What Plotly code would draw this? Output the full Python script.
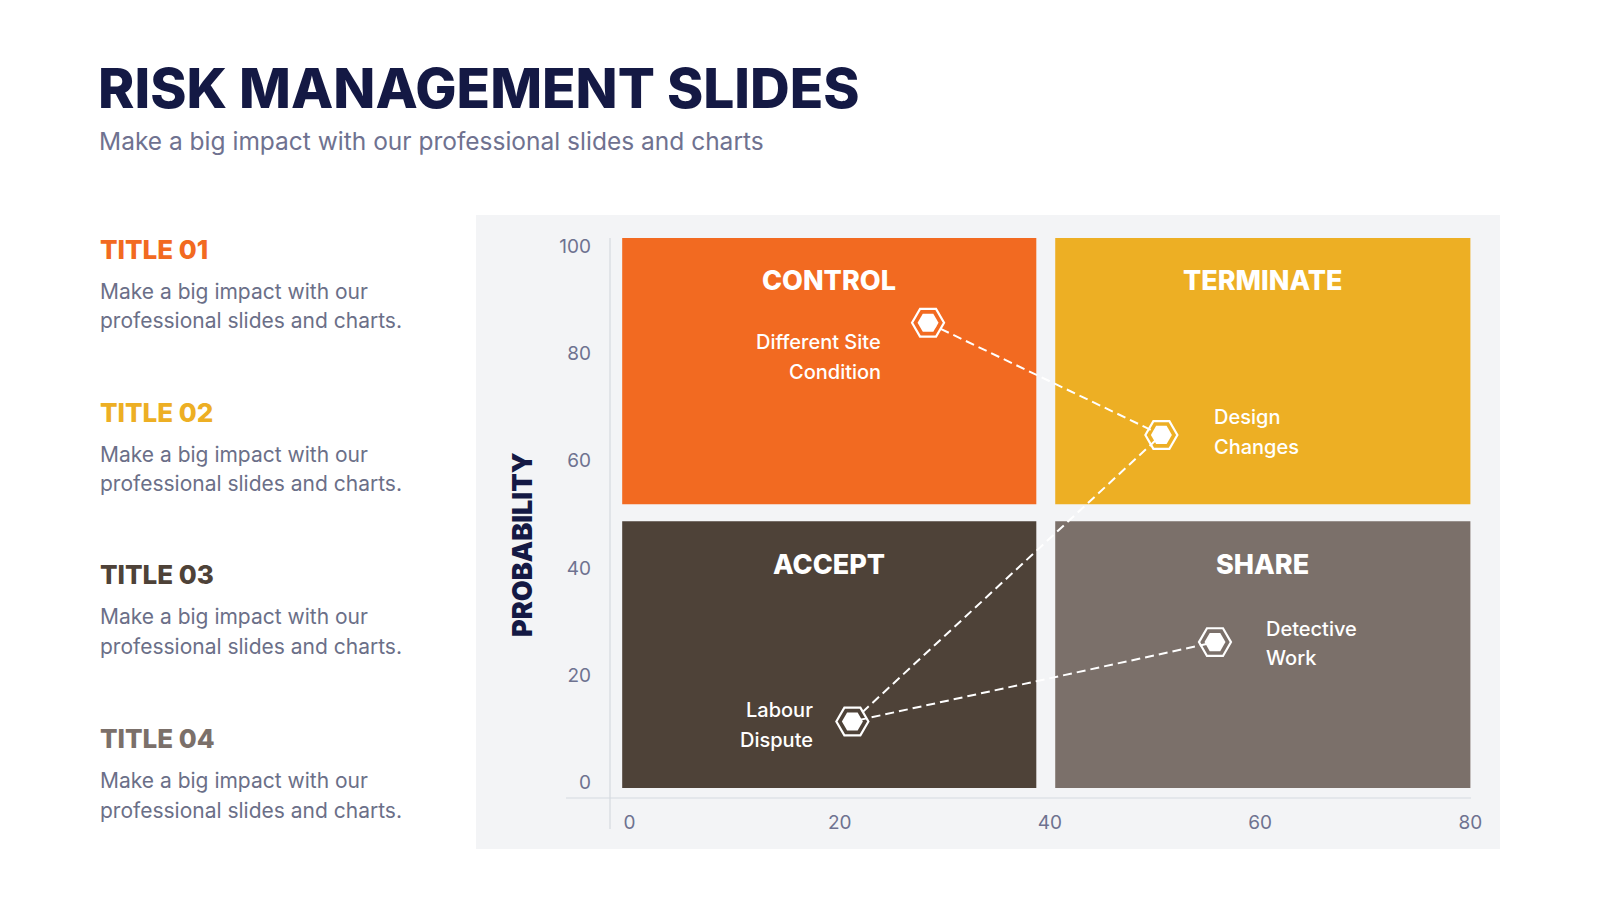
import plotly.graph_objects as go

# ---------------- data ----------------
risk_labels = ["Different Site\nCondition", "Design\nChanges", "Labour\nDispute", "Detective\nWork"]
impact_x = [28.4, 50.6, 21.2, 55.7]
probability_y = [85.7, 64.8, 11.4, 26.2]

quad_names = ["CONTROL", "TERMINATE", "ACCEPT", "SHARE"]
quad_x0 = [-0.7, 40.5, -0.7, 40.5]
quad_x1 = [38.7, 80.0, 38.7, 80.0]
quad_y0 = [51.9, 51.9, -1.0, -1.0]
quad_y1 = [101.5, 101.5, 48.7, 48.7]

x_ticks = [0, 20, 40, 60, 80]
y_ticks = [0, 20, 40, 60, 80, 100]

side_titles = ["TITLE 01", "TITLE 02", "TITLE 03", "TITLE 04"]
side_texts = ["Make a big impact with our\nprofessional slides and charts."] * 4

# ---------------- styles ----------------
W, H = 1600, 900
DX, DY = -8, -8
NAVY = "#141944"
GRAY_TXT = "#6B6F88"
TICK_TXT = "#6E7290"
quad_colors = ["#F26A21", "#EDAF24", "#4E4238", "#7B706A"]
side_colors = ["#F26A21", "#EDAF24", "#4E4238", "#7B706A"]
BODY = "Inter"

def px_x(p):
    return (p + DX) / W

def px_y(p):
    return 1 - (p + DY) / H

fig = go.Figure()

# dashed connecting line + hexagon markers
fig.add_trace(go.Scatter(
    x=impact_x, y=probability_y, mode="lines",
    line=dict(color="white", width=2, dash="9px,5px"),
    hoverinfo="skip", showlegend=False))
fig.add_trace(go.Scatter(
    x=impact_x, y=probability_y, mode="markers",
    marker=dict(symbol="hexagon2-open", size=32, color="white", line=dict(color="white", width=2.2)),
    hoverinfo="skip", showlegend=False))
fig.add_trace(go.Scatter(
    x=impact_x, y=probability_y, mode="markers",
    marker=dict(symbol="hexagon2", size=21, color="white", line=dict(width=0)),
    text=[t.replace("\n", " ") for t in risk_labels], hoverinfo="text", showlegend=False))

shapes = []
# grey panel
shapes.append(dict(type="rect", xref="paper", yref="paper",
                   x0=px_x(476), x1=px_x(1500), y0=px_y(849), y1=px_y(215),
                   fillcolor="#F3F4F6", line=dict(width=0), layer="below"))
# quadrants
for i in range(4):
    shapes.append(dict(type="rect", xref="x", yref="y",
                       x0=quad_x0[i], x1=quad_x1[i], y0=quad_y0[i], y1=quad_y1[i],
                       fillcolor=quad_colors[i], line=dict(width=0), layer="below"))
# axis lines
shapes.append(dict(type="line", xref="paper", yref="paper",
                   x0=px_x(610), x1=px_x(610), y0=px_y(829), y1=px_y(238),
                   line=dict(color="#D6D9E0", width=1.2)))
shapes.append(dict(type="line", xref="paper", yref="paper",
                   x0=px_x(566), x1=px_x(1471), y0=px_y(798), y1=px_y(798),
                   line=dict(color="#D6D9E0", width=1.2)))

annotations = []
# quadrant titles
for i in range(4):
    annotations.append(dict(
        x=(quad_x0[i] + quad_x1[i]) / 2, y=quad_y1[i] - 8, xref="x", yref="y",
        text=quad_names[i], showarrow=False, xanchor="center", yanchor="middle",
        font=dict(family=BODY, size=27, color="white", weight=800)))

# point labels
label_anchor = ["right", "left", "right", "left"]
label_xshift = [-45, 51, -37, 49]
label_yshift = [[-19, -49], [18, -12], [12, -18], [13, -16]]
for i, lab in enumerate(risk_labels):
    for j, line in enumerate(lab.split("\n")):
        annotations.append(dict(
            x=impact_x[i], y=probability_y[i], xref="x", yref="y",
            text=line, showarrow=False, xanchor=label_anchor[i], yanchor="middle",
            xshift=label_xshift[i], yshift=label_yshift[i][j],
            font=dict(family=BODY, size=20, color="white", weight=500)))

# header
annotations.append(dict(
    x=px_x(96), y=px_y(88), xref="paper", yref="paper", text="RISK MANAGEMENT SLIDES",
    showarrow=False, xanchor="left", yanchor="middle",
    font=dict(family=BODY, size=55, color=NAVY, weight=800)))
annotations.append(dict(
    x=px_x(97), y=px_y(141), xref="paper", yref="paper",
    text="Make a big impact with our professional slides and charts",
    showarrow=False, xanchor="left", yanchor="middle",
    font=dict(family=BODY, size=24.5, color="#6F7290", weight=400)))

# side column
title_y = [249, 412, 574, 738]
for i in range(4):
    annotations.append(dict(
        x=px_x(98), y=px_y(title_y[i]), xref="paper", yref="paper", text=side_titles[i],
        showarrow=False, xanchor="left", yanchor="middle",
        font=dict(family=BODY, size=26, color=side_colors[i], weight=800)))
    for j, line in enumerate(side_texts[i].split("\n")):
        annotations.append(dict(
            x=px_x(98), y=px_y(title_y[i] + 42 + 30 * j), xref="paper", yref="paper",
            text=line, showarrow=False, xanchor="left", yanchor="middle",
            font=dict(family=BODY, size=21, color=GRAY_TXT, weight=400)))

# y axis title
annotations.append(dict(
    x=px_x(522), y=px_y(545), xref="paper", yref="paper", text="PROBABILITY",
    showarrow=False, textangle=-90, xanchor="center", yanchor="middle",
    font=dict(family=BODY, size=27, color=NAVY, weight=900)))

fig.update_layout(
    width=W, height=H, margin=dict(l=0, r=0, t=0, b=0),
    paper_bgcolor="white", plot_bgcolor="rgba(0,0,0,0)",
    shapes=shapes, annotations=annotations, showlegend=False,
    xaxis=dict(domain=[(610 + DX) / W, (1480.9 + DX) / W], range=[-1.86, 81],
               tickvals=x_ticks, ticktext=[str(v) for v in x_ticks],
               showgrid=False, zeroline=False, showline=False, ticks="",
               tickfont=dict(family=BODY, size=19, color=TICK_TXT),
               ticklabelstandoff=11, fixedrange=True),
    yaxis=dict(domain=[1 - (798 + DY) / H, 1 - (235.3 + DY) / H], range=[-2.85, 102],
               tickvals=y_ticks, ticktext=[str(v) for v in y_ticks],
               showgrid=False, zeroline=False, showline=False, ticks="",
               tickfont=dict(family=BODY, size=19, color=TICK_TXT),
               ticklabelstandoff=18, fixedrange=True),
)

fig.write_html("out.html")
